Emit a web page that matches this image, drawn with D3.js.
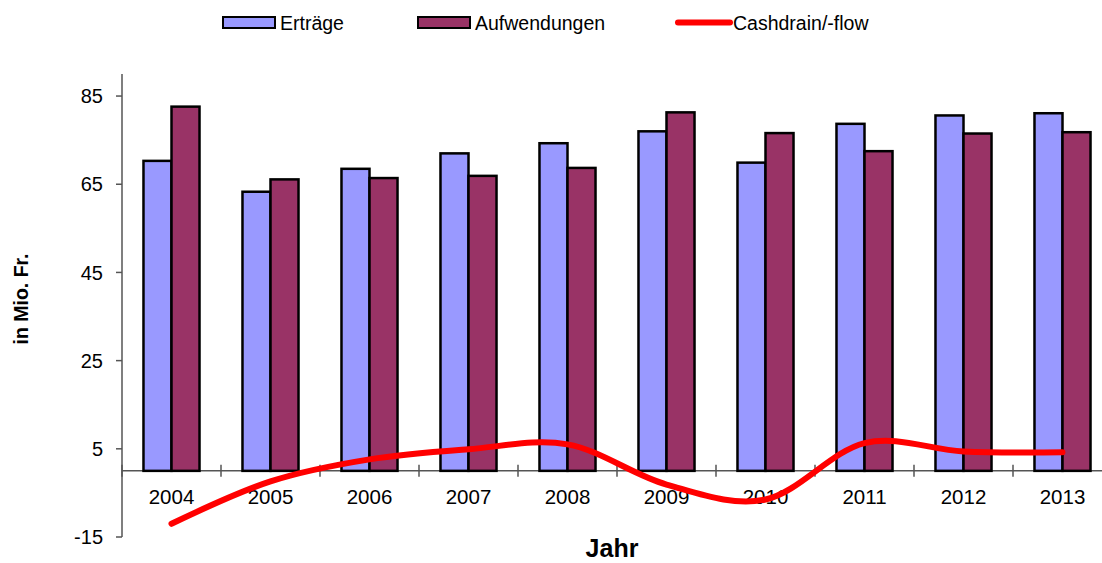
<!DOCTYPE html>
<html>
<head>
<meta charset="utf-8">
<script src="https://cdn.jsdelivr.net/npm/d3@7"></script>
<style>
  body { margin: 0; background: #fff; }
  svg { display: block; font-family: "Liberation Sans", Arial, sans-serif; }
</style>
</head>
<body>
<script>
// chart data
const years = ['2004', '2005', '2006', '2007', '2008', '2009', '2010', '2011', '2012', '2013'];
const ertraege = [70.3, 63.3, 68.5, 72.0, 74.3, 77.0, 69.9, 78.7, 80.6, 81.1];
const aufwendungen = [82.6, 66.1, 66.4, 66.9, 68.7, 81.3, 76.6, 72.5, 76.5, 76.8];
const cashflow = [-12.0, -2.4, 2.6, 4.9, 6.0, -3.1, -6.5, 6.3, 4.4, 4.2];
const yTicks = [-15, 5, 25, 45, 65, 85];
const seriesNames = ['Erträge', 'Aufwendungen', 'Cashdrain/-flow'];

const w = 1102;
const h = 563;
const colors = { 'Erträge': '#9999ff', 'Aufwendungen': '#993366', 'Cashdrain/-flow': '#ff0000' };

const svg = d3.select('body').append('svg')
  .attr('width', w)
  .attr('height', h);

// scales
const x = d3.scaleBand().domain(years).range([122, 1112]).padding(0);
const bw = x.bandwidth();
const x1 = d3.scaleBand().domain(['Erträge', 'Aufwendungen']).range([bw * 0.217, bw * 0.783]).padding(0);
const y = d3.scaleLinear().domain([-15, 90]).range([537, 74]);
const y0 = y(0);

// y axis
const yAxis = svg.append('g').attr('class', 'y-axis');
yAxis.append('line')
  .attr('x1', 122).attr('x2', 122)
  .attr('y1', y(90)).attr('y2', y(-15))
  .attr('stroke', '#555').attr('stroke-width', 1.5);
yAxis.selectAll('.tick')
  .data(yTicks)
  .enter().append('line')
  .attr('x1', 116).attr('x2', 122)
  .attr('y1', d => y(d)).attr('y2', d => y(d))
  .attr('stroke', '#555').attr('stroke-width', 1.5);
yAxis.selectAll('text')
  .data(yTicks)
  .enter().append('text')
  .attr('x', 103)
  .attr('y', d => y(d))
  .attr('dy', '0.36em')
  .attr('text-anchor', 'end')
  .attr('font-size', '20px')
  .text(d => d);

// x axis
const xAxis = svg.append('g').attr('class', 'x-axis');
xAxis.append('line')
  .attr('x1', 122).attr('x2', 1112)
  .attr('y1', y0).attr('y2', y0)
  .attr('stroke', '#555').attr('stroke-width', 1.5);
xAxis.selectAll('.tick')
  .data(years.concat(['end']))
  .enter().append('line')
  .attr('x1', (d, i) => 122 + i * bw)
  .attr('x2', (d, i) => 122 + i * bw)
  .attr('y1', y0 - 6).attr('y2', y0 + 6)
  .attr('stroke', '#555').attr('stroke-width', 1.5);
xAxis.selectAll('text')
  .data(years)
  .enter().append('text')
  .attr('x', d => x(d) + bw / 2)
  .attr('y', 504)
  .attr('text-anchor', 'middle')
  .attr('font-size', '20.5px')
  .text(d => d);

// bars
const barData = years.map((yr, i) => ({ year: yr, values: [
  { key: 'Erträge', value: ertraege[i] },
  { key: 'Aufwendungen', value: aufwendungen[i] },
] }));

svg.append('g')
  .selectAll('g')
  .data(barData)
  .enter().append('g')
  .attr('transform', d => `translate(${x(d.year)},0)`)
  .selectAll('rect')
  .data(d => d.values)
  .enter().append('rect')
  .attr('x', d => x1(d.key))
  .attr('y', d => y(d.value))
  .attr('width', x1.bandwidth())
  .attr('height', d => y0 - y(d.value))
  .attr('fill', d => colors[d.key])
  .attr('stroke', '#000')
  .attr('stroke-width', 2.5);

// cashflow line
const line = d3.line()
  .x((d, i) => x(years[i]) + bw / 2)
  .y(d => y(d))
  .curve(d3.curveCatmullRom.alpha(0));

svg.append('path')
  .datum(cashflow)
  .attr('d', line)
  .attr('fill', 'none')
  .attr('stroke', colors['Cashdrain/-flow'])
  .attr('stroke-width', 6)
  .attr('stroke-linecap', 'round');

// axis titles
svg.append('text')
  .attr('x', 612)
  .attr('y', 557)
  .attr('text-anchor', 'middle')
  .attr('font-size', '25px')
  .attr('font-weight', 'bold')
  .text('Jahr');

svg.append('text')
  .attr('transform', 'translate(28,299) rotate(-90)')
  .attr('text-anchor', 'middle')
  .attr('font-size', '19.5px')
  .attr('font-weight', 'bold')
  .text('in Mio. Fr.');

// legend
const legendX = [223, 418, 676];
const legend = svg.append('g').attr('class', 'legend');
seriesNames.forEach((name, i) => {
  const g = legend.append('g').attr('transform', `translate(${legendX[i]},0)`);
  if (i < 2) {
    g.append('rect')
      .attr('x', 0).attr('y', 17)
      .attr('width', 52).attr('height', 11)
      .attr('fill', colors[name])
      .attr('stroke', '#000')
      .attr('stroke-width', 2);
  } else {
    g.append('line')
      .attr('x1', 2).attr('x2', 54)
      .attr('y1', 22.5).attr('y2', 22.5)
      .attr('stroke', colors[name])
      .attr('stroke-width', 6)
      .attr('stroke-linecap', 'round');
  }
  g.append('text')
    .attr('x', 57)
    .attr('y', 22.5)
    .attr('dy', '0.36em')
    .attr('font-size', '19.5px')
    .text(name);
});
</script>
</body>
</html>
